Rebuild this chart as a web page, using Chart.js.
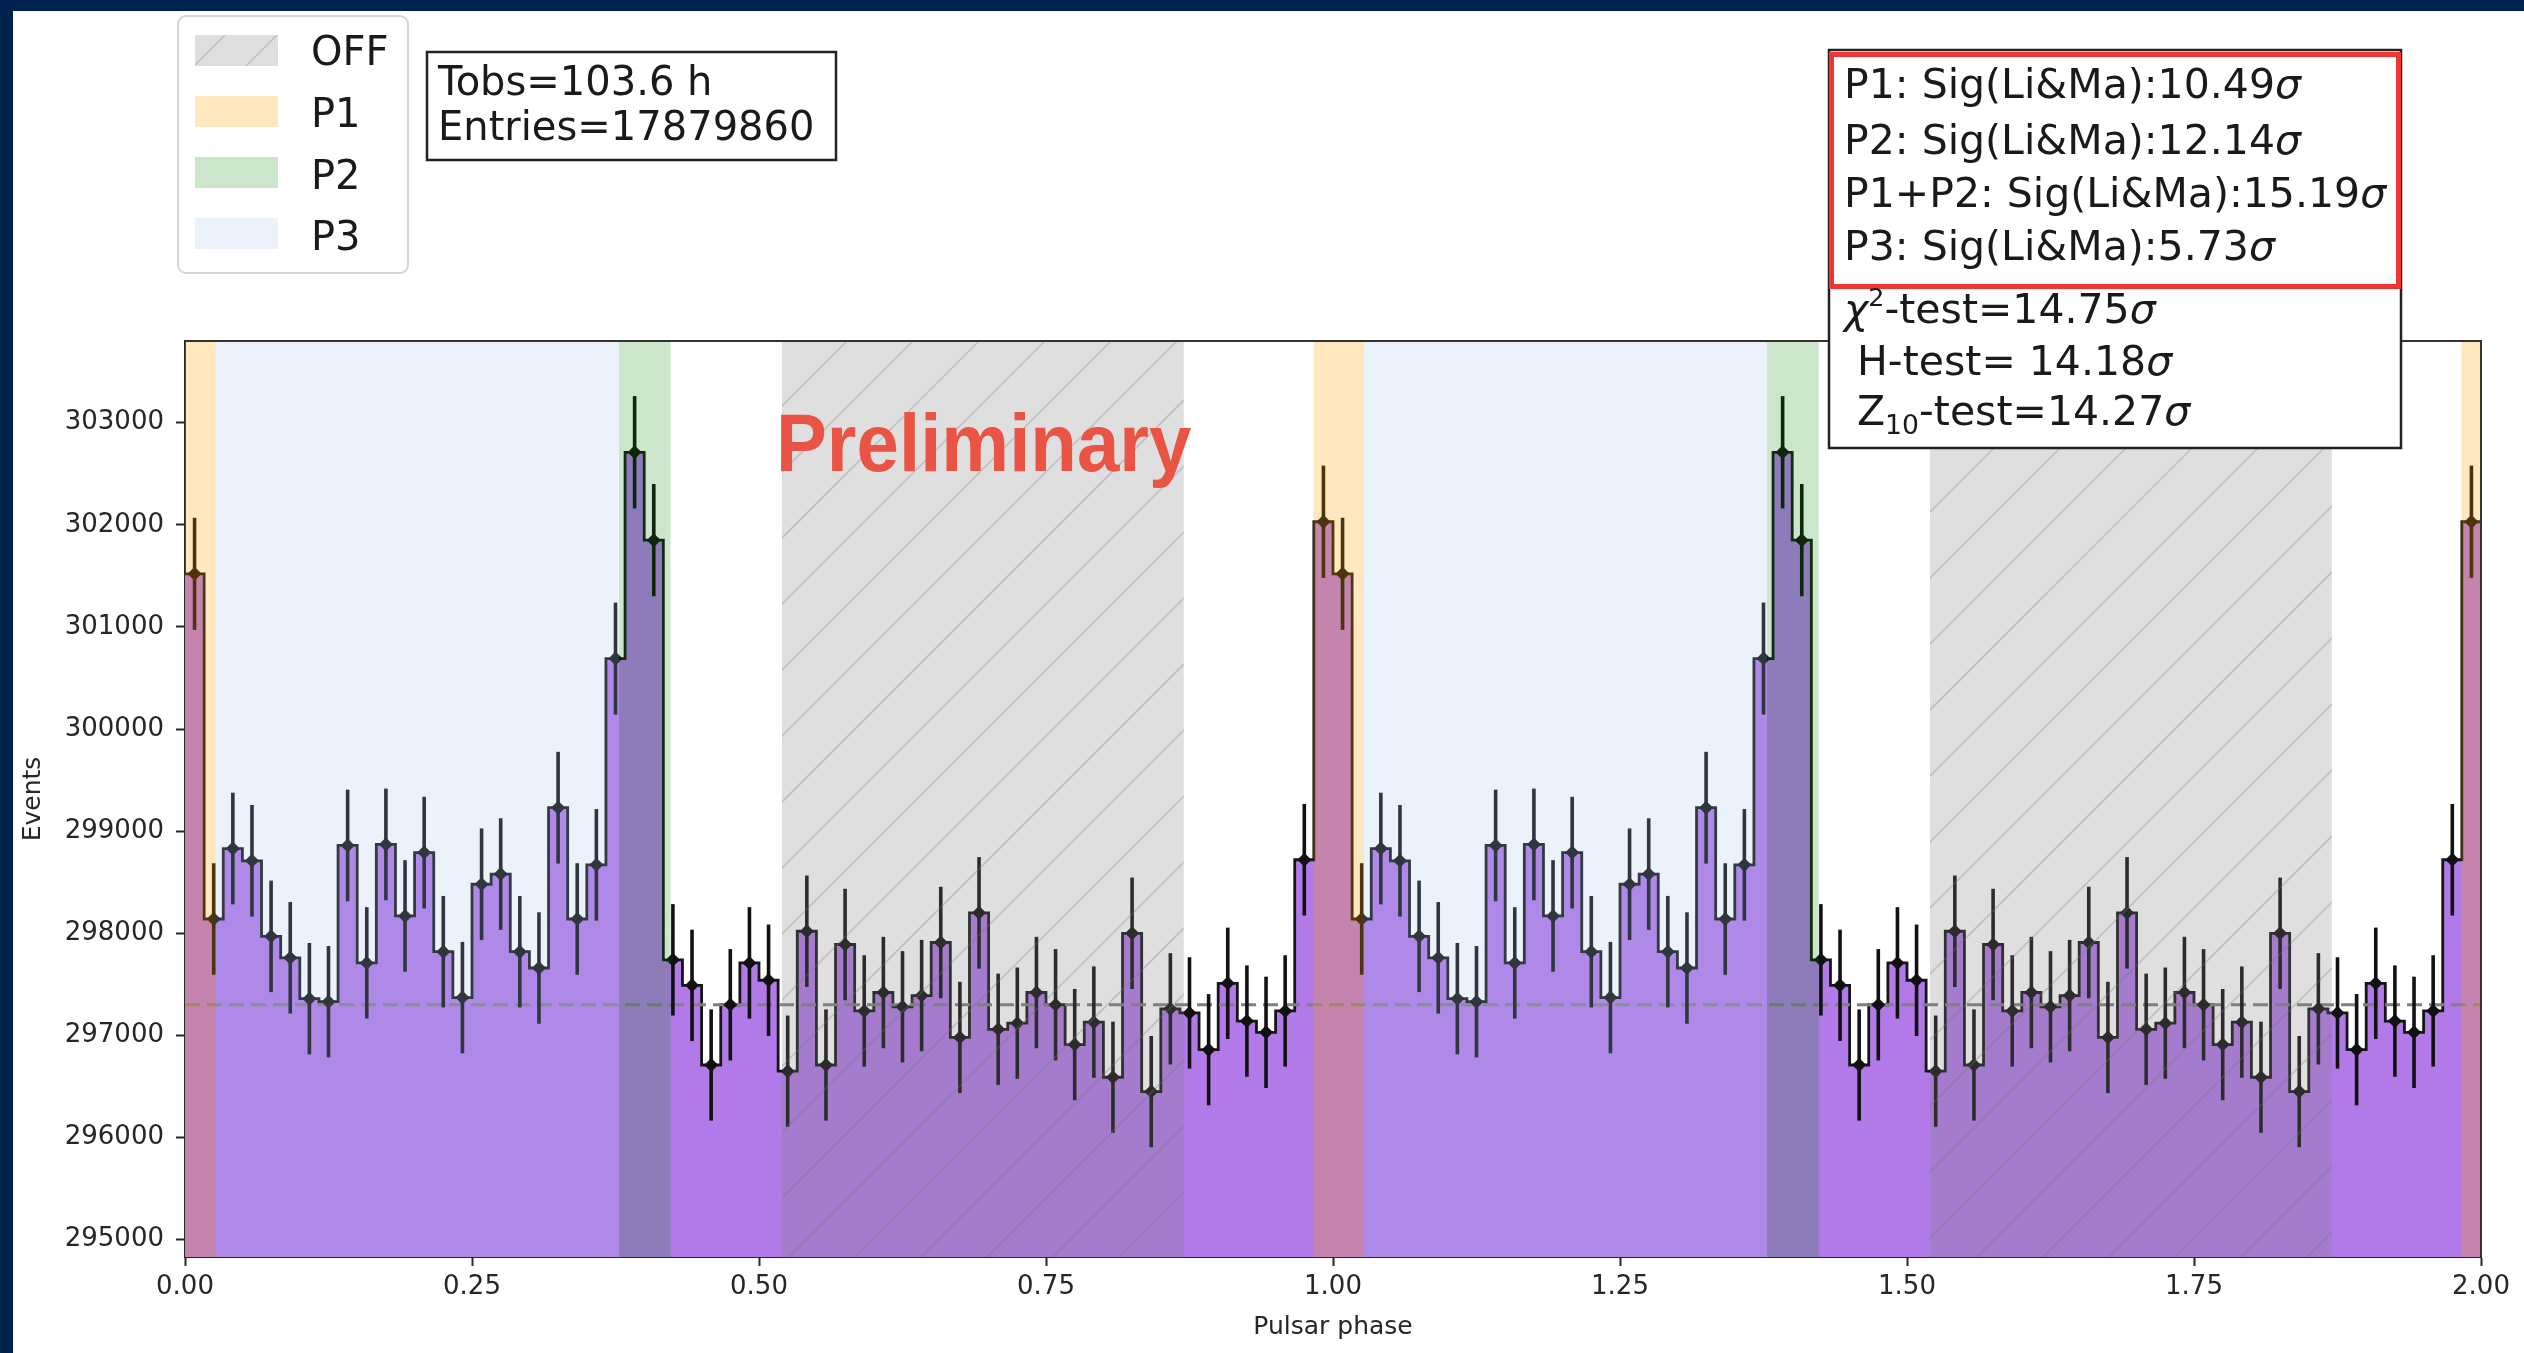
<!DOCTYPE html>
<html>
<head>
<meta charset="utf-8">
<script src="https://cdn.jsdelivr.net/npm/chart.js@4.4.1/dist/chart.umd.min.js"></script>
<style>
  html, body { margin: 0; padding: 0; background: #fff; }
  #wrap { position: relative; width: 2524px; height: 1353px; overflow: hidden; }
  #frameTop { position: absolute; left: 0; top: 0; width: 2524px; height: 11px; background: #00214d; }
  #frameLeft { position: absolute; left: 0; top: 0; width: 13px; height: 1353px; background: #00214d; }
</style>
</head>
<body>
<div id="wrap">
  <canvas id="chart" width="2524" height="1353"></canvas>
  <div id="frameTop"></div>
  <div id="frameLeft"></div>
</div>
<script>
// one pulsar cycle, 60 phase bins (the plot shows it twice)
const binsPerCycle = 60;
const counts = [
  301520, 298140, 298830, 298710, 297970, 297760, 297360, 297330, 298860, 297710,
  298870, 298170, 298790, 297820, 297370, 298480, 298580, 297820, 297660, 299230,
  298140, 298670, 300690, 302710, 301850, 297740, 297490, 296710, 297300, 297710,
  297540, 296650, 298020, 296710, 297890, 297240, 297420, 297280, 297390, 297910,
  296980, 298200, 297060, 297120, 297420, 297300, 296910, 297130, 296590, 298000,
  296450, 297260, 297220, 296860, 297510, 297140, 297030, 297240, 298720, 302030,
];
const cycles = 2;
const bgLevel = 297300;

const xTicks = [0, 0.25, 0.5, 0.75, 1, 1.25, 1.5, 1.75, 2];
const yTicks = [295000, 296000, 297000, 298000, 299000, 300000, 301000, 302000, 303000];
const yMin = 294830;
const yMax = 303800;

// phase regions
const spanOff = [[0.52, 0.87], [1.52, 1.87]];
const spanP1 = [[0, 0.027], [0.983, 1.027], [1.983, 2]];
const spanP2 = [[0.378, 0.423], [1.378, 1.423]];
const spanP3 = [[0.027, 0.378], [1.027, 1.378]];

const legendLabels = ["OFF", "P1", "P2", "P3"];
const tObsHours = 103.6;
const entries = 17879860;
const sigNames = ["P1", "P2", "P1+P2", "P3"];
const sigValues = [10.49, 12.14, 15.19, 5.73];
const chi2Sig = 14.75;
const hSig = 14.18;
const z10Sig = 14.27;

const colOff = "rgba(128,128,128,0.25)";
const colP1 = "rgba(255,165,0,0.25)";
const colP2 = "rgba(0,128,0,0.2)";
const colP3 = "rgba(160,193,231,0.21)";
const hatchCol = "rgba(120,120,120,0.3)";

let allCounts = [];
for (let c = 0; c < cycles; c++) allCounts = allCounts.concat(counts);
const nBins = allCounts.length;

const stepPoints = allCounts.map(function (v, i) {
  return { x: i / binsPerCycle, y: v };
});
stepPoints.push({ x: nBins / binsPerCycle, y: allCounts[nBins - 1] });

const centerPoints = allCounts.map(function (v, i) {
  return { x: (i + 0.5) / binsPerCycle, y: v };
});

const bgPoints = [{ x: 0, y: bgLevel }, { x: cycles, y: bgLevel }];

function fillSpans(ctx, xs, a, list, color) {
  ctx.fillStyle = color;
  list.forEach(function (s) {
    const x0 = xs.getPixelForValue(s[0]);
    const x1 = xs.getPixelForValue(s[1]);
    ctx.fillRect(x0, a.top, x1 - x0, a.height);
  });
}

function hatch(ctx, x0, y0, w, h, step, color, lw) {
  ctx.save();
  ctx.beginPath();
  ctx.rect(x0, y0, w, h);
  ctx.clip();
  ctx.strokeStyle = color;
  ctx.lineWidth = lw;
  ctx.beginPath();
  const start = Math.floor((x0 + y0) / step) * step;
  for (let c = start; c <= x0 + w + y0 + h + step; c += step) {
    ctx.moveTo(c - (y0 + h), y0 + h);
    ctx.lineTo(c - y0, y0);
  }
  ctx.stroke();
  ctx.restore();
}

function drawRich(ctx, x, y, parts, size) {
  parts.forEach(function (p) {
    const s = size * (p.scale || 1);
    ctx.font = (p.italic ? "italic " : "") + s + "px 'DejaVu Sans'";
    ctx.fillText(p.t, x, y + (p.dy || 0));
    x += ctx.measureText(p.t).width;
  });
}

const overlays = {
  id: "overlays",
  beforeDatasetDraw(chart, args) {
    if (args.index !== 2) return;
    // error bars, under the markers
    const ctx = chart.ctx;
    const a = chart.chartArea;
    const xs = chart.scales.x;
    const ys = chart.scales.y;
    ctx.save();
    ctx.beginPath();
    ctx.rect(a.left, a.top, a.width, a.height);
    ctx.clip();
    ctx.strokeStyle = "#111";
    ctx.lineWidth = 3.6;
    centerPoints.forEach(function (p) {
      const e = Math.sqrt(p.y);
      const px = xs.getPixelForValue(p.x);
      ctx.beginPath();
      ctx.moveTo(px, ys.getPixelForValue(p.y - e));
      ctx.lineTo(px, ys.getPixelForValue(p.y + e));
      ctx.stroke();
    });
    ctx.restore();
  },
  afterDatasetsDraw(chart) {
    const ctx = chart.ctx;
    const a = chart.chartArea;
    const xs = chart.scales.x;
    ctx.save();
    fillSpans(ctx, xs, a, spanOff, colOff);
    fillSpans(ctx, xs, a, spanP1, colP1);
    fillSpans(ctx, xs, a, spanP2, colP2);
    fillSpans(ctx, xs, a, spanP3, colP3);
    spanOff.forEach(function (s) {
      const x0 = xs.getPixelForValue(s[0]);
      const x1 = xs.getPixelForValue(s[1]);
      hatch(ctx, x0, a.top, x1 - x0, a.height, 66, hatchCol, 1.6);
    });
    // top and right spines
    ctx.strokeStyle = "#333";
    ctx.lineWidth = 2;
    ctx.beginPath();
    ctx.moveTo(a.left, a.top);
    ctx.lineTo(a.right, a.top);
    ctx.lineTo(a.right, a.bottom);
    ctx.stroke();
    ctx.restore();
  },
  afterDraw(chart) {
    const ctx = chart.ctx;
    ctx.save();
    ctx.textBaseline = "alphabetic";
    ctx.textAlign = "left";

    // legend
    ctx.fillStyle = "rgba(255,255,255,0.85)";
    ctx.strokeStyle = "#d6d6d6";
    ctx.lineWidth = 2;
    ctx.beginPath();
    ctx.roundRect(178, 16, 230, 257, 8);
    ctx.fill();
    ctx.stroke();
    const patchCols = [colOff, colP1, colP2, colP3];
    const rowTop = [35, 96, 157, 218];
    const rowBase = [65, 127, 189, 250];
    legendLabels.forEach(function (lab, i) {
      ctx.fillStyle = patchCols[i];
      ctx.fillRect(195, rowTop[i], 83, 31);
      if (i === 0) hatch(ctx, 195, rowTop[i], 83, 31, 52, hatchCol, 1.6);
      ctx.fillStyle = "#1a1a1a";
      ctx.font = "40px 'DejaVu Sans'";
      ctx.fillText(lab, 311, rowBase[i]);
    });

    // observation box
    ctx.fillStyle = "#fff";
    ctx.fillRect(427, 52, 409, 108);
    ctx.strokeStyle = "#222";
    ctx.lineWidth = 2.5;
    ctx.strokeRect(427, 52, 409, 108);
    ctx.fillStyle = "#1a1a1a";
    ctx.font = "40px 'DejaVu Sans'";
    ctx.fillText("Tobs=" + tObsHours.toFixed(1) + " h", 438, 95);
    ctx.fillText("Entries=" + entries, 438, 140);

    // significance box
    ctx.fillStyle = "#fff";
    ctx.fillRect(1829, 50, 572, 398);
    ctx.strokeStyle = "#222";
    ctx.lineWidth = 2.5;
    ctx.strokeRect(1829, 50, 572, 398);
    ctx.strokeStyle = "#f03535";
    ctx.lineWidth = 5;
    ctx.strokeRect(1831.5, 54.5, 567, 232);
    ctx.fillStyle = "#1a1a1a";
    const base = [98, 154, 207, 260];
    sigNames.forEach(function (n, i) {
      drawRich(ctx, 1844, base[i], [
        { t: n + ": Sig(Li&Ma):" + sigValues[i].toFixed(2) },
        { t: "σ", italic: true },
      ], 41);
    });
    drawRich(ctx, 1844, 323, [
      { t: "χ", italic: true },
      { t: "2", scale: 0.62, dy: -17 },
      { t: "-test=" + chi2Sig.toFixed(2) },
      { t: "σ", italic: true },
    ], 41);
    drawRich(ctx, 1844, 375, [
      { t: " H-test= " + hSig.toFixed(2) },
      { t: "σ", italic: true },
    ], 41);
    drawRich(ctx, 1844, 425, [
      { t: " Z" },
      { t: "10", scale: 0.65, dy: 9 },
      { t: "-test=" + z10Sig.toFixed(2) },
      { t: "σ", italic: true },
    ], 41);

    // watermark
    ctx.fillStyle = "#ea5444";
    ctx.font = "bold 82px 'Liberation Sans'";
    ctx.translate(776, 471);
    ctx.scale(0.93, 1);
    ctx.fillText("Preliminary", 0, 0);
    ctx.restore();
  },
};

const tickFont = { family: "DejaVu Sans", size: 26 };
const inkColor = "#262626";

new Chart(document.getElementById("chart"), {
  type: "line",
  data: {
    datasets: [
      {
        label: "Events",
        data: stepPoints,
        stepped: true,
        fill: "start",
        backgroundColor: "#b27ae8",
        borderColor: "#161616",
        borderWidth: 2.8,
        pointRadius: 0,
        order: 3,
      },
      {
        label: "background",
        data: bgPoints,
        borderColor: "#7f7f7f",
        borderDash: [15, 7],
        borderWidth: 3,
        pointRadius: 0,
        fill: false,
        order: 2,
      },
      {
        type: "scatter",
        label: "bins",
        data: centerPoints,
        pointStyle: "rectRot",
        pointRadius: 7,
        backgroundColor: "#111",
        borderWidth: 0,
        order: 1,
      },
    ],
  },
  options: {
    responsive: false,
    animation: false,
    devicePixelRatio: 1,
    layout: { padding: { left: 0, top: 341, right: 43, bottom: 0 } },
    plugins: {
      legend: { display: false },
      tooltip: { enabled: false },
    },
    scales: {
      x: {
        type: "linear",
        min: 0,
        max: 2,
        afterBuildTicks: function (s) {
          s.ticks = xTicks.map(function (v) { return { value: v }; });
        },
        afterFit: function (s) { s.height = 96; },
        ticks: {
          font: tickFont,
          color: inkColor,
          padding: 6,
          maxRotation: 0,
          autoSkip: false,
          callback: function (v) { return Number(v).toFixed(2); },
        },
        grid: { drawOnChartArea: false, drawTicks: true, tickLength: 9, tickColor: inkColor, tickWidth: 2 },
        border: { display: true, color: inkColor, width: 2 },
        title: {
          display: true,
          text: "Pulsar phase",
          font: { family: "DejaVu Sans", size: 25 },
          color: inkColor,
          padding: { top: 0, bottom: 11 },
        },
      },
      y: {
        type: "linear",
        min: yMin,
        max: yMax,
        afterBuildTicks: function (s) {
          s.ticks = yTicks.map(function (v) { return { value: v }; });
        },
        afterFit: function (s) { s.width = 185; },
        ticks: {
          font: tickFont,
          color: inkColor,
          padding: 12,
          callback: function (v) { return String(v); },
        },
        grid: { drawOnChartArea: false, drawTicks: true, tickLength: 9, tickColor: inkColor, tickWidth: 2 },
        border: { display: true, color: inkColor, width: 2 },
        title: {
          display: true,
          text: "Events",
          font: { family: "DejaVu Sans", size: 25 },
          color: inkColor,
          padding: { top: 18, bottom: 0 },
        },
      },
    },
  },
  plugins: [overlays],
});
</script>
</body>
</html>
